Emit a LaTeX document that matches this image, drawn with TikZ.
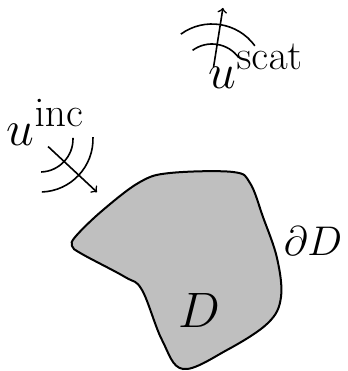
\documentclass[tikz,border=0pt]{standalone}
\usetikzlibrary{calc}
\tikzset{
	lbl/.style={anchor=base west,inner sep=0,font=\Huge},
	dlbl/.style={anchor=base west,inner sep=0,font=\huge}
}
\begin{document}
\begin{tikzpicture}[x=0.5pt,y=0.5pt,line width=0.8pt]

	\useasboundingbox (0,0) rectangle (348,371);

	% scatterer
	\draw[line width=1pt,fill=black!25] plot[smooth cycle,tension=0.6] coordinates {
		(76,135) (103,161) (140,189) (170,198) (233,199) (250,188) (263,154)
		(277,113) (281,74) (268,48) (227,21) (183,2) (162,31) (142,81)
		(125,94) (82,117) (72,125)};
	\node[lbl] (D) at (178,44) {$D$};
	\node[dlbl] (dD) at (283,116) {$\partial D$};

	% incident wave
	\coordinate (incc) at (40,232);
	\coordinate (incs) at ($(incc)+(-43:11)$);
	\coordinate (ince) at ($(incc)+(-43:78)$);
	\draw ($(incc)+(2:33)$) arc[start angle=2,end angle=-88,radius=33];
	\draw ($(incc)+(2:53)$) arc[start angle=2,end angle=-88,radius=53];
	\draw[->] (incs) -- (ince);
	\node[lbl] (uinc) at (6,226) {$u^{\mathrm{inc}}$};

	% scattered wave
	\coordinate (scatc) at (212,294);
	\coordinate (scats) at ($(scatc)+(81:10)$);
	\coordinate (scate) at ($(scatc)+(81:70)$);
	\draw ($(scatc)+(36:33)$) arc[start angle=36,end angle=126,radius=33];
	\draw ($(scatc)+(36:53)$) arc[start angle=36,end angle=126,radius=53];
	\draw[->] (scats) -- (scate);
	\node[lbl] (uscat) at (208,283) {$u^{\mathrm{scat}}$};

\end{tikzpicture}
\end{document}
